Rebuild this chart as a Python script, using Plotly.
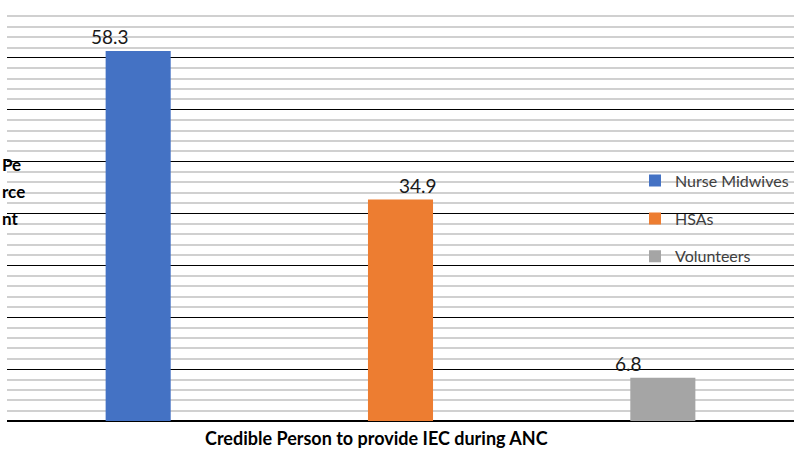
import plotly.graph_objects as go

# data
series = ["Nurse Midwives", "HSAs", "Volunteers"]
values = [58.3, 34.9, 6.8]
colors = ["#4472C4", "#ED7D31", "#A5A5A5"]
x_title = "Credible Person to provide IEC during ANC"
y_title_parts = ["Pe", "rce", "nt"]

y_max = 65.4
major = y_max / 8
label_shift = [-28, 17, -34]  # data labels sit off-centre in the original

fig = go.Figure()

for i, name in enumerate(series):
    fig.add_trace(
        go.Bar(
            name=name,
            x=[name],
            y=[values[i]],
            width=0.248,
            marker=dict(color=colors[i], line=dict(width=0)),
            legendgroup=name,
            hoverinfo="skip",
        )
    )
    fig.add_annotation(
        x=name, y=values[i], text=f"{values[i]}",
        xanchor="center", yanchor="bottom", xshift=label_shift[i], yshift=1,
        showarrow=False, font=dict(size=19, color="#1a1a1a"),
    )

fig.update_layout(
    width=797,
    height=450,
    barmode="overlay",
    plot_bgcolor="white",
    paper_bgcolor="white",
    font=dict(family="Lato, 'Open Sans', sans-serif", color="#262626"),
    margin=dict(l=7, r=3, t=6, b=29),
    showlegend=True,
    legend=dict(
        x=1,
        y=0.62,
        xanchor="right",
        yanchor="top",
        bgcolor="rgba(0,0,0,0)",
        font=dict(size=16, color="#404040"),
        tracegroupgap=14,
        itemwidth=30,
    ),
)

fig.update_xaxes(
    showticklabels=False,
    showgrid=False,
    showline=False,
    zeroline=False,
)

fig.update_yaxes(
    range=[0, y_max + 0.01],
    tick0=0,
    dtick=major,
    showticklabels=False,
    showgrid=True,
    gridcolor="black",
    gridwidth=1.2,
    zeroline=True,
    zerolinecolor="black",
    zerolinewidth=1.5,
    minor=dict(dtick=major / 5, showgrid=True, gridcolor="#D0D0D0", gridwidth=1.5),
)

# axis titles
fig.add_annotation(
    text="<b>" + x_title + "</b>", xref="paper", yref="paper", x=0.47, y=0,
    yanchor="top", yshift=-4, showarrow=False,
    font=dict(size=18, color="black", family="Lato, sans-serif"),
)
for j, part in enumerate(y_title_parts):
    fig.add_annotation(
        text="<b>" + part + "</b>", xref="paper", yref="paper",
        x=-0.009, y=0.617 - j * 0.065,
        xanchor="left", yanchor="middle", showarrow=False,
        font=dict(size=17, color="black", family="Lato, sans-serif"),
    )

fig.write_html(
    "out.html",
    config={"displayModeBar": False},
    post_script="document.body.style.margin='0';document.body.style.overflow='hidden';",
)
